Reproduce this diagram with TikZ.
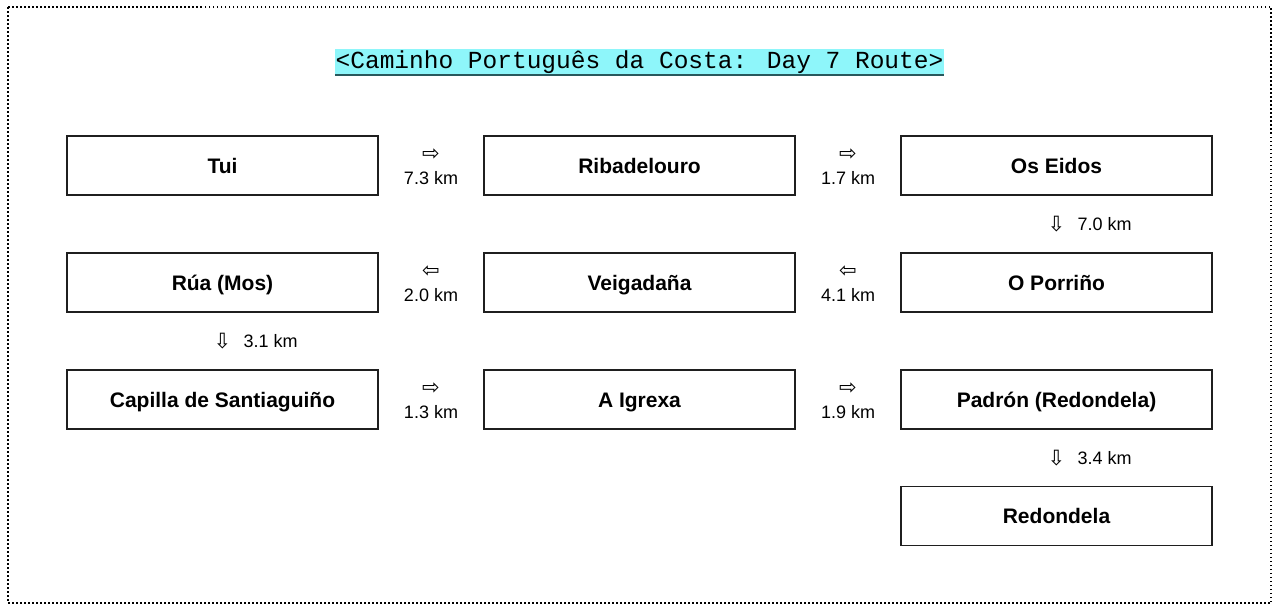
\documentclass[tikz,border=0pt]{standalone}
\usepackage{fontspec}
\setmainfont{Liberation Sans}
\newfontfamily\titlemono{Liberation Mono}
\newfontfamily\arrowglyph{DejaVu Sans}
\usetikzlibrary{calc}
\definecolor{titlecyan}{RGB}{142,246,250}
\definecolor{titleline}{RGB}{40,88,92}
\tikzset{
	stopbox/.style={draw=black!88, line width=1.3pt, minimum width=311pt, minimum height=59pt, inner sep=0pt, text height=15pt, text depth=0pt, font=\fontsize{21}{25}\selectfont\bfseries},
	distlabel/.style={inner sep=0pt, font=\fontsize{18}{21}\selectfont},
	arrowlabel/.style={inner sep=0pt, font=\fontsize{21}{24}\arrowglyph}
}

\begin{document}
\begin{tikzpicture}[x=1pt, y=-1pt]
			%%%%% START %%%%%
			
			\fill[white] (0, 0) rectangle (1280, 613);
			\useasboundingbox (0, 0) rectangle (1280, 613);
			\draw[line width=1.5pt, dash pattern=on 1.5pt off 2.5pt] (8, 7) rectangle (1271, 603);
			
			% title
			\node[fill=titlecyan, inner sep=0pt, minimum width=609pt, minimum height=26pt] (title) at (639.5, 62) {\fontsize{24.5}{28}\titlemono <Caminho Português da Costa: Day 7 Route>};
			\draw[titleline, line width=1.5pt] (title.south west) -- (title.south east);
			
			% stops
			\node[stopbox] (tui) at (222.5, 165.5) {Tui};
			\node[stopbox] (ribadelouro) at (639.5, 165.5) {Ribadelouro};
			\node[stopbox] (oseidos) at (1056.5, 165.5) {Os Eidos};
			\node[stopbox] (ruamos) at (222.5, 282.5) {Rúa (Mos)};
			\node[stopbox] (veigadana) at (639.5, 282.5) {Veigadaña};
			\node[stopbox] (porrino) at (1056.5, 282.5) {O Porriño};
			\node[stopbox] (capilla) at (222.5, 399.5) {Capilla de Santiaguiño};
			\node[stopbox] (igrexa) at (639.5, 399.5) {A Igrexa};
			\node[stopbox] (padron) at (1056.5, 399.5) {Padrón (Redondela)};
			\node[stopbox] (redondela) at (1056.5, 516) {Redondela};
			
			% distances between stops
			\node[arrowlabel] (a1) at ($(tui.east)!0.5!(ribadelouro.west)+(0,-10.5)$) {⇨};
			\node[distlabel] (d1) at ($(tui.east)!0.5!(ribadelouro.west)+(0,12.5)$) {7.3 km};
			\node[arrowlabel] (a2) at ($(ribadelouro.east)!0.5!(oseidos.west)+(0,-10.5)$) {⇨};
			\node[distlabel] (d2) at ($(ribadelouro.east)!0.5!(oseidos.west)+(0,12.5)$) {1.7 km};
			\node[arrowlabel] (a3) at ($(oseidos.south)!0.5!(porrino.north)$) {⇩};
			\node[distlabel, anchor=west] (d3) at ($(oseidos.south)!0.5!(porrino.north)+(21,0)$) {7.0 km};
			\node[arrowlabel] (a4) at ($(veigadana.east)!0.5!(porrino.west)+(0,-10.5)$) {⇦};
			\node[distlabel] (d4) at ($(veigadana.east)!0.5!(porrino.west)+(0,12.5)$) {4.1 km};
			\node[arrowlabel] (a5) at ($(ruamos.east)!0.5!(veigadana.west)+(0,-10.5)$) {⇦};
			\node[distlabel] (d5) at ($(ruamos.east)!0.5!(veigadana.west)+(0,12.5)$) {2.0 km};
			\node[arrowlabel] (a6) at ($(ruamos.south)!0.5!(capilla.north)$) {⇩};
			\node[distlabel, anchor=west] (d6) at ($(ruamos.south)!0.5!(capilla.north)+(21,0)$) {3.1 km};
			\node[arrowlabel] (a7) at ($(capilla.east)!0.5!(igrexa.west)+(0,-10.5)$) {⇨};
			\node[distlabel] (d7) at ($(capilla.east)!0.5!(igrexa.west)+(0,12.5)$) {1.3 km};
			\node[arrowlabel] (a8) at ($(igrexa.east)!0.5!(padron.west)+(0,-10.5)$) {⇨};
			\node[distlabel] (d8) at ($(igrexa.east)!0.5!(padron.west)+(0,12.5)$) {1.9 km};
			\node[arrowlabel] (a9) at ($(padron.south)!0.5!(redondela.north)$) {⇩};
			\node[distlabel, anchor=west] (d9) at ($(padron.south)!0.5!(redondela.north)+(21,0)$) {3.4 km};
			
			%%%%% END %%%%%
\end{tikzpicture}
\end{document}
